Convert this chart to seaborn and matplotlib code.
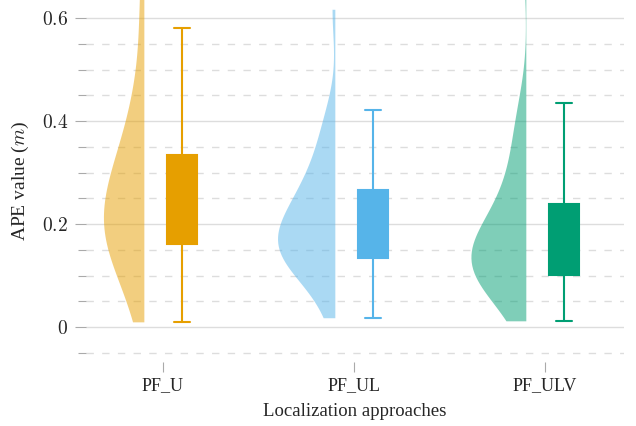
#!/usr/bin/env python3

import numpy as np
import pandas as pd
import seaborn as sns
import matplotlib.pyplot as plt
import matplotlib.transforms as mtransforms
from matplotlib.ticker import MultipleLocator, FuncFormatter

# APE samples (m) per localization approach
approaches = ["PF_U", "PF_UL", "PF_ULV"]
colors = ["#E69F00", "#56B4E9", "#009E73"]

pf_u = [0.010, 0.040, 0.065, 0.085, 0.100, 0.115, 0.128, 0.140, 0.150, 0.158,
        0.162, 0.170, 0.178, 0.186, 0.193, 0.200, 0.207, 0.214, 0.222, 0.230,
        0.238, 0.247, 0.256, 0.265, 0.275, 0.285, 0.296, 0.308, 0.320, 0.333,
        0.338, 0.355, 0.375, 0.398, 0.425, 0.455, 0.490, 0.581, 0.640, 0.760]
pf_ul = [0.018, 0.050, 0.075, 0.092, 0.105, 0.115, 0.122, 0.127, 0.131, 0.133,
         0.135, 0.142, 0.148, 0.155, 0.161, 0.167, 0.172, 0.177, 0.182, 0.187,
         0.192, 0.198, 0.204, 0.211, 0.218, 0.226, 0.235, 0.245, 0.255, 0.264,
         0.272, 0.282, 0.295, 0.310, 0.328, 0.348, 0.372, 0.395, 0.421, 0.617]
pf_ulv = [0.012, 0.035, 0.055, 0.068, 0.080, 0.088, 0.093, 0.096, 0.098, 0.098,
          0.102, 0.108, 0.115, 0.121, 0.127, 0.133, 0.139, 0.144, 0.149, 0.154,
          0.159, 0.164, 0.170, 0.176, 0.183, 0.190, 0.198, 0.207, 0.218, 0.236,
          0.248, 0.262, 0.280, 0.300, 0.322, 0.348, 0.378, 0.405, 0.435, 0.720]

df = pd.DataFrame({
    "approach": ["PF_U"] * len(pf_u) + ["PF_UL"] * len(pf_ul) + ["PF_ULV"] * len(pf_ulv),
    "ape": pf_u + pf_ul + pf_ulv,
})

sns.set_theme(style="white")
plt.rcParams["font.family"] = ["Liberation Serif", "DejaVu Serif"]
plt.rcParams["mathtext.fontset"] = "cm"

fig = plt.figure(figsize=(6.36, 4.26), dpi=100)
ax = fig.add_axes([0.1352, 0.1502, 0.8459, 0.8498])

# half violins on the left
sns.violinplot(data=df, x="approach", y="ape", hue="approach", order=approaches,
               palette=colors, saturation=1, cut=0, inner=None, linewidth=0,
               width=0.6, density_norm="area", common_norm=True, legend=False, ax=ax)
shift_left = mtransforms.Affine2D().translate(-0.1, 0) + ax.transData
for coll in ax.collections:
    coll.set_alpha(0.5)
    for path in coll.get_paths():
        v = path.vertices.copy()
        center = (v[:, 0].min() + v[:, 0].max()) / 2
        v[:, 0] = np.minimum(v[:, 0], center)
        path.vertices = v
    coll.set_transform(shift_left)

# boxes on the right
n_lines, n_patches = len(ax.lines), len(ax.patches)
for name, c in zip(approaches, colors):
    sns.boxplot(data=df[df.approach == name], x="approach", y="ape", order=approaches,
                color=c, linecolor=c, saturation=1, width=0.16, linewidth=1.5,
                showfliers=False, ax=ax)
shift_right = mtransforms.Affine2D().translate(0.1, 0) + ax.transData
for art in ax.lines[n_lines:] + ax.patches[n_patches:]:
    art.set_transform(shift_right)

ax.set_xlim(-0.403, 2.414)
ax.set_ylim(-0.068, 0.635)
ax.yaxis.set_major_locator(MultipleLocator(0.2))
ax.yaxis.set_minor_locator(MultipleLocator(0.05))
ax.yaxis.set_major_formatter(FuncFormatter(lambda v, _: f"${v:g}$"))

ax.grid(True, which="major", axis="y", color="#dddddd", linewidth=1.0)
ax.grid(True, which="minor", axis="y", color="#dddddd", linewidth=1.0,
        linestyle=(0, (5.3, 6)))
ax.set_axisbelow(True)
for s in ax.spines.values():
    s.set_visible(False)

ax.tick_params(axis="y", which="major", direction="out", length=8, width=0.8,
               color="#aaaaaa", labelsize=14, pad=5, left=True)
ax.tick_params(axis="y", which="minor", direction="out", length=6, width=0.8,
               color="#aaaaaa", left=True)
ax.tick_params(axis="x", direction="out", length=7, width=0.8, color="#aaaaaa",
               labelsize=13, pad=4, bottom=True)

ax.set_xlabel("Localization approaches", fontsize=13.5, labelpad=6)
ax.set_ylabel("APE value ($m$)", fontsize=14, labelpad=8)

fig.savefig("out.png", dpi=100)
